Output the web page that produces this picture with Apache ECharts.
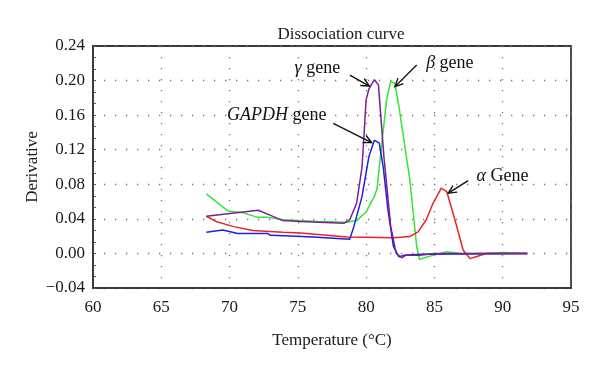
<!DOCTYPE html>
<html>
<head>
<meta charset="utf-8">
<script src="https://cdn.jsdelivr.net/npm/echarts@6/dist/echarts.min.js"></script>
<style>
html,body{margin:0;padding:0;background:#fff;}
#c{width:600px;height:373px;}
</style>
</head>
<body>
<div id="c"></div>
<script>
// ---- data (temperature °C, derivative) ----
var betaGene = [[68.3,0.069],[69.9,0.049],[71.0,0.047],[72.0,0.042],[72.7,0.042],[73.9,0.039],[75.1,0.038],[76.5,0.037],[78.6,0.036],[79.3,0.038],[80.0,0.048],[80.6,0.066],[80.8,0.075],[81.1,0.12],[81.5,0.178],[81.8,0.199],[82.1,0.197],[82.4,0.170],[83.2,0.085],[83.7,0.008],[83.9,-0.007],[84.9,-0.002],[85.9,0.002],[86.9,0.0],[88.0,0.0],[90.0,0.001],[91.8,0.0]];
var alphaGene = [[68.3,0.043],[69.0,0.037],[70.3,0.031],[71.7,0.0265],[73.9,0.0245],[75.2,0.0235],[78.6,0.019],[81.0,0.0185],[82.0,0.018],[83.2,0.0195],[83.8,0.025],[84.4,0.039],[84.9,0.058],[85.5,0.0755],[85.9,0.0716],[86.5,0.039],[87.1,0.004],[87.6,-0.006],[88.1,-0.0035],[88.8,0.0],[91.8,0.0]];
var gapdhGene = [[68.3,0.0246],[69.5,0.027],[70.6,0.023],[72.8,0.023],[73.0,0.021],[74.9,0.020],[76.1,0.019],[78.8,0.0165],[79.1,0.031],[79.7,0.066],[80.2,0.112],[80.6,0.131],[80.96,0.1275],[81.25,0.100],[81.6,0.050],[82.0,0.008],[82.4,-0.004],[82.8,-0.002],[84.0,-0.001],[91.8,0.0]];
var gammaGene = [[68.3,0.043],[72.1,0.050],[73.0,0.044],[73.9,0.038],[75.2,0.037],[78.4,0.035],[78.8,0.039],[79.3,0.058],[79.7,0.100],[80.0,0.178],[80.2,0.190],[80.6,0.201],[80.9,0.195],[81.3,0.112],[81.8,0.031],[82.2,0.0],[82.6,-0.005],[82.9,-0.002],[83.9,-0.002],[85.0,0.0],[91.8,0.0]];

var xTicks = [60,65,70,75,80,85,90,95];
var yTicks = [-0.04,0.00,0.04,0.08,0.12,0.16,0.20,0.24];

// annotation texts and anchors (data space)
var labelTexts = ['{i|γ} gene','{i|β} gene','{i|GAPDH} gene','{i|α} Gene'];
var labelAnchors = [[76.43,0.2142],[86.13,0.220],[73.45,0.1602],[89.98,0.0897]];
var arrowFrom = [[78.81,0.2064],[83.70,0.218],[77.59,0.1506],[87.47,0.0843]];
var arrowTo = [[80.23,0.1937],[82.11,0.1930],[80.40,0.1282],[86.01,0.0697]];

var FONT = '"Liberation Serif", "DejaVu Serif", serif';
var chart = echarts.init(document.getElementById('c'), null, {renderer:'canvas'});

var arrowData = arrowFrom.map(function(f,i){ return [f[0],f[1],arrowTo[i][0],arrowTo[i][1]]; });
var labelData = labelAnchors.map(function(a,i){ return [a[0],a[1],i]; });

function lineSeries(name, data, color, z){
  return {name:name, type:'line', data:data, showSymbol:false, symbol:'none', smooth:false, z:z,
    lineStyle:{color:color, width:1.5}, itemStyle:{color:color}, animation:false};
}

var option = {
  animation:false,
  title:{text:'Dissociation curve', left:336, top:21, textAlign:'center',
    textStyle:{fontFamily:FONT, fontSize:17, fontWeight:'normal', color:'#1a1a1a'}},
  grid:{left:93, right:29, top:46, bottom:85, show:true, borderColor:'#3a3a3a', borderWidth:1.8, backgroundColor:'transparent'},
  xAxis:{type:'value', min:60, max:95, interval:5,
    name:'Temperature (°C)', nameLocation:'middle', nameGap:44, nameMoveOverlap:false,
    nameTextStyle:{fontFamily:FONT, fontSize:17, color:'#1a1a1a'},
    axisLine:{show:true, onZero:false, lineStyle:{color:'#3a3a3a', width:1.8}},
    axisTick:{show:false},
    axisLabel:{fontFamily:FONT, fontSize:17, color:'#1a1a1a', margin:11,
      formatter:function(v){ return xTicks.indexOf(v)>=0 ? String(v) : ''; }},
    splitLine:{show:true, lineStyle:{color:'#777', width:1.3, type:[1.3,9.7]}}
  },
  yAxis:{type:'value', min:-0.04, max:0.24, interval:0.04,
    name:'Derivative', nameLocation:'middle', nameGap:52, nameMoveOverlap:false,
    nameTextStyle:{fontFamily:FONT, fontSize:17, color:'#1a1a1a'},
    axisLine:{show:true, onZero:false, lineStyle:{color:'#3a3a3a', width:1.8}},
    axisTick:{show:true, inside:true, length:3, lineStyle:{color:'#555'}},
    minorTick:{show:true, splitNumber:3, length:3, lineStyle:{color:'#555'}},
    axisLabel:{fontFamily:FONT, fontSize:17, color:'#1a1a1a', margin:8,
      formatter:function(v){
        var r = Math.round(v*100)/100;
        for (var k=0;k<yTicks.length;k++){ if (Math.abs(yTicks[k]-r)<1e-9){ var s=Math.abs(r).toFixed(2); return r<0 ? '\u2212'+s : s; } }
        return '';
      }},
    splitLine:{show:true, lineStyle:{color:'#777', width:1.3, type:[1.3,9.7]}}
  },
  series:[
    lineSeries('β gene', betaGene, '#33e633', 3),
    lineSeries('α Gene', alphaGene, '#e82525', 4),
    lineSeries('GAPDH gene', gapdhGene, '#1f1fe0', 5),
    lineSeries('γ gene', gammaGene, '#7a1f96', 6),
    {type:'custom', data:arrowData, z:10, silent:true,
      encode:{x:[0,2], y:[1,3]},
      renderItem:function(params, api){
        var p1 = api.coord([api.value(0), api.value(1)]);
        var p2 = api.coord([api.value(2), api.value(3)]);
        var ang = Math.atan2(p2[1]-p1[1], p2[0]-p1[0]);
        var L = 9, a = 0.45;
        var h1 = [p2[0]-L*Math.cos(ang-a), p2[1]-L*Math.sin(ang-a)];
        var h2 = [p2[0]-L*Math.cos(ang+a), p2[1]-L*Math.sin(ang+a)];
        var st = {stroke:'#111', lineWidth:1.4, fill:null};
        return {type:'group', children:[
          {type:'line', shape:{x1:p1[0],y1:p1[1],x2:p2[0],y2:p2[1]}, style:st},
          {type:'polyline', shape:{points:[h1,p2,h2]}, style:st}
        ]};
      }},
    {type:'custom', data:labelData, z:11, silent:true,
      encode:{x:0, y:1},
      renderItem:function(params, api){
        var p = api.coord([api.value(0), api.value(1)]);
        var idx = api.value(2);
        return {type:'text', x:p[0], y:p[1], style:{
          text:labelTexts[idx], x:0, y:0, align:'center', verticalAlign:'middle',
          fontFamily:FONT, fontSize:18, fill:'#111',
          rich:{i:{fontStyle:'italic', fontFamily:FONT, fontSize:18, fill:'#111'}}
        }};
      }}
  ]
};
chart.setOption(option);
</script>
</body>
</html>
